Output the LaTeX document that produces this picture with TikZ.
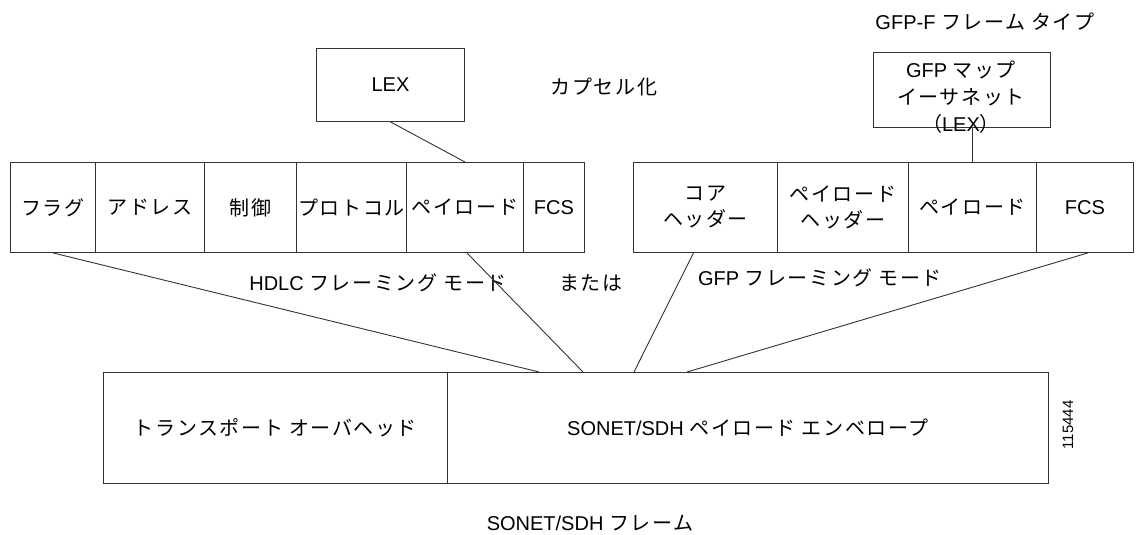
\documentclass[tikz,border=0pt]{standalone}
\usepackage{fontspec}
\setmainfont{Liberation Sans}
\newfontfamily\jp[LetterSpace=8]{Noto Sans CJK JP}
\tikzset{
  every node/.style={font=\fontsize{20}{26}\selectfont, text=black},
  cell/.style={draw=black!80, line width=0.9pt, minimum height=90pt, inner sep=0pt, align=center, anchor=north west},
  box/.style={draw=black!80, line width=0.9pt, inner sep=0pt, align=center, anchor=north west},
  lbl/.style={inner sep=0pt, align=center},
  conn/.style={draw=black!80, line width=0.9pt}
}
\begin{document}
\begin{tikzpicture}[x=1pt,y=-1pt]
\useasboundingbox (0,0) rectangle (1140,535);
% top labels and boxes
\node[lbl] (gfpf) at (985,22) {GFP-F {\jp フレーム タイプ}};
\node[box, minimum width=148pt, minimum height=73pt] (lex) at (316,48) {LEX};
\node[lbl] (encap) at (604,87) {\jp カプセル化};
\node[box, minimum width=177pt, minimum height=75pt, text depth=0pt] (gmap) at (873,52) {};
\node[lbl, font=\fontsize{20}{27}\selectfont] (gmapt) at (961,97) {GFP {\jp マップ}\\{\jp イーサネット}\\{\jp （}LEX{\jp ）}};
% HDLC row
\node[cell, minimum width=85pt] (flag) at (10,162) {\jp フラグ};
\node[cell, minimum width=109pt] (addr) at (95,162) {\jp アドレス};
\node[cell, minimum width=92pt] (ctrl) at (204,162) {\jp 制御};
\node[cell, minimum width=110pt] (proto) at (296,162) {\jp プロトコル};
\node[cell, minimum width=117pt] (pay) at (406,162) {\jp ペイロード};
\node[cell, minimum width=61pt] (fcs) at (523,162) {FCS};
% GFP row
\node[cell, minimum width=144pt] (core) at (633,162) {\jp コア\\\jp ヘッダー};
\node[cell, minimum width=131pt] (phead) at (777,162) {\jp ペイロード\\\jp ヘッダー};
\node[cell, minimum width=128pt] (gpay) at (908,162) {\jp ペイロード};
\node[cell, minimum width=97pt] (gfcs) at (1036,162) {FCS};
% mode labels
\node[lbl] (hdlc) at (378,283) {HDLC {\jp フレーミング モード}};
\node[lbl] (or) at (591,283) {\jp または};
\node[lbl] (gfpmode) at (820,278) {GFP {\jp フレーミング モード}};
% bottom frame
\node[box, minimum width=344pt, minimum height=111pt] (toh) at (103,372) {\jp トランスポート オーバヘッド};
\node[box, minimum width=601pt, minimum height=111pt] (spe) at (447,372) {SONET/SDH {\jp ペイロード エンベロープ}};
\node[lbl, rotate=90, font=\fontsize{15}{17}\selectfont] (num) at (1068,425) {115444};
\node[lbl] (frame) at (590,523) {SONET/SDH {\jp フレーム}};
% connectors
\draw[conn] (lex.south) -- (pay.north);
\draw[conn] (gpay.north |- gmap.south) -- (gpay.north);
\draw[conn] (flag.south) -- ([xshift=92pt]spe.north west);
\draw[conn] ([xshift=2pt]pay.south) -- ([xshift=136pt]spe.north west);
\draw[conn] ([xshift=-12pt]core.south) -- ([xshift=187pt]spe.north west);
\draw[conn] ([xshift=3pt]gfcs.south) -- ([xshift=240pt]spe.north west);
\end{tikzpicture}
\end{document}
